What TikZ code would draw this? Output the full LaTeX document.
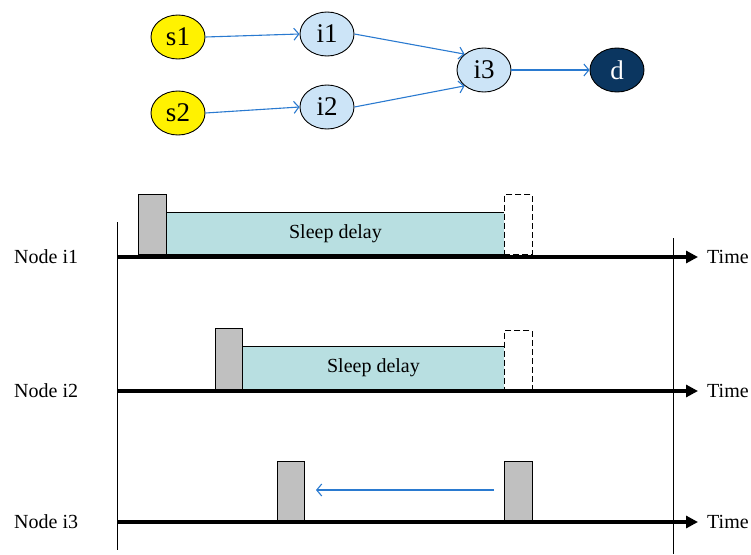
\documentclass[tikz,border=0pt]{standalone}
\usepackage{fontspec}
\setmainfont{Liberation Serif}
\usetikzlibrary{arrows.meta,shapes.geometric}
\definecolor{nodeblue}{HTML}{CCE4F7}
\definecolor{navy}{HTML}{0B3660}
\definecolor{linkblue}{HTML}{2A7AD0}
\definecolor{teal}{HTML}{B8DFE1}
\definecolor{slotgray}{HTML}{C0C0C0}
\begin{document}
\begin{tikzpicture}[x=1pt,y=-1pt,
  vert/.style={ellipse,draw=black,line width=0.9pt,minimum width=54pt,minimum height=44pt,inner sep=0pt,font=\fontsize{27}{27}\selectfont},
  src/.style={vert,fill=yellow},
  mid/.style={vert,fill=nodeblue},
  dst/.style={vert,fill=navy,text=white},
  link/.style={draw=linkblue,line width=1.1pt,-{Straight Barb[length=5pt,width=12pt]}},
  axis/.style={line width=3.5pt,-{Triangle[length=12pt,width=12pt]}},
  slot/.style={draw=black,line width=0.9pt,fill=slotgray},
  sleep/.style={draw=black,line width=0.9pt,fill=teal},
  ghost/.style={draw=black,line width=0.9pt,dash pattern=on 6pt off 3pt,fill=white},
  lbl/.style={font=\fontsize{20}{20}\selectfont,inner sep=0pt},
]
\useasboundingbox (0,0) rectangle (751,554);
% graph
\node[src] (s1) at (178,37) {s1};
\node[src] (s2) at (178,113) {s2};
\node[mid] (i1) at (327,34) {i1};
\node[mid] (i2) at (327,107) {i2};
\node[mid] (i3) at (484,70) {i3};
\node[dst] (d) at (617,70) {d};
\draw[link] (s1.east) -- (i1.west);
\draw[link] (s2.east) -- (i2.west);
\draw[link] (i1.east) -- (i3.north west);
\draw[link] (i2.east) -- (i3.south west);
\draw[link] (i3.east) -- (d.west);
% vertical boundaries
\coordinate (la) at (117,222);
\coordinate (lb) at (117,550);
\coordinate (ra) at (673,238);
\coordinate (rb) at (673,554);
\draw[line width=0.8pt] (la) -- (lb);
\draw[line width=0.8pt] (ra) -- (rb);
% row 1
\node[slot,minimum width=28pt,minimum height=60pt,inner sep=0pt,anchor=south west] (g1) at (138,255) {};
\node[sleep,minimum width=338pt,minimum height=42pt,inner sep=0pt,anchor=south west] (z1) at (166,255) {};
\node[lbl] at (z1.center) {Sleep delay};
\node[ghost,minimum width=28pt,minimum height=60pt,inner sep=0pt,anchor=south west] (h1) at (504,255) {};
\coordinate (a1s) at (118,257);
\coordinate (a1e) at (698,257);
\draw[axis] (a1s) -- (a1e);
\node[lbl,anchor=west] (n1) at (14,257) {Node i1};
\node[lbl,anchor=west] (t1) at (707,257) {Time};
% row 2
\node[slot,minimum width=27pt,minimum height=61pt,inner sep=0pt,anchor=south west] (g2) at (215,390) {};
\node[sleep,minimum width=262pt,minimum height=43pt,inner sep=0pt,anchor=south west] (z2) at (242,390) {};
\node[lbl] at (z2.center) {Sleep delay};
\node[ghost,minimum width=28pt,minimum height=59pt,inner sep=0pt,anchor=south west] (h2) at (504,390) {};
\coordinate (a2s) at (118,391);
\coordinate (a2e) at (698,391);
\draw[axis] (a2s) -- (a2e);
\node[lbl,anchor=west] (n2) at (14,391) {Node i2};
\node[lbl,anchor=west] (t2) at (707,391) {Time};
% row 3
\node[slot,minimum width=27pt,minimum height=59pt,inner sep=0pt,anchor=south west] (g3) at (277,521) {};
\node[slot,minimum width=28pt,minimum height=59pt,inner sep=0pt,anchor=south west] (g4) at (504,521) {};
\coordinate (a3s) at (118,522);
\coordinate (a3e) at (698,522);
\draw[axis] (a3s) -- (a3e);
\node[lbl,anchor=west] (n3) at (14,522) {Node i3};
\node[lbl,anchor=west] (t3) at (707,522) {Time};
\coordinate (bs) at (494,490);
\coordinate (be) at (316,490);
\draw[link] (bs) -- (be);
\end{tikzpicture}
\end{document}
